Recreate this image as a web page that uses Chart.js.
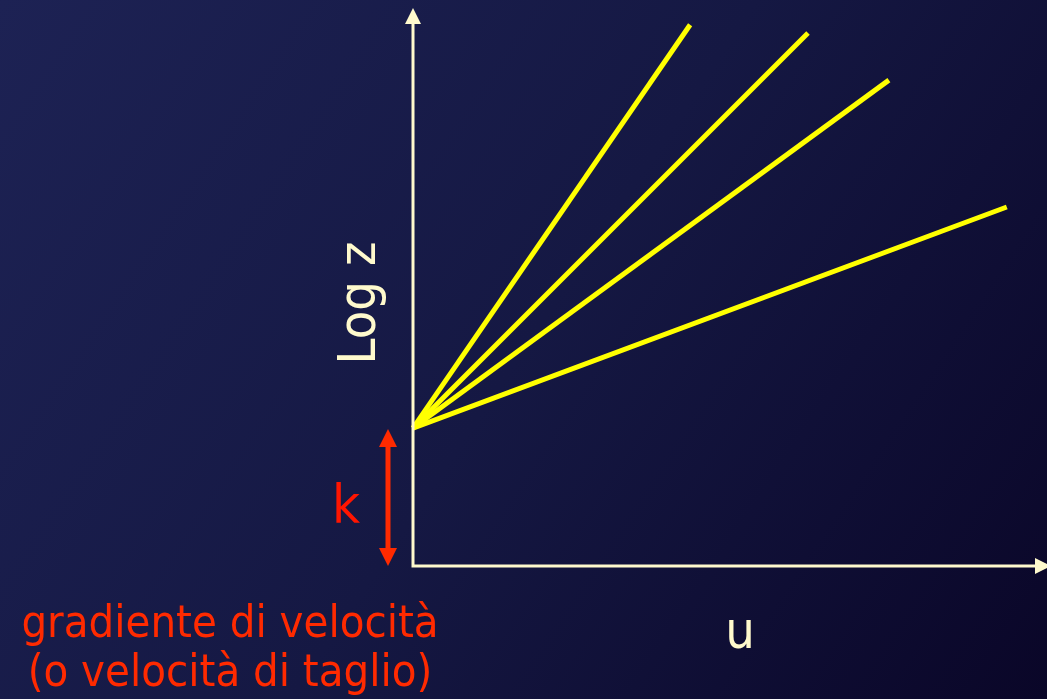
<!DOCTYPE html>
<html>
<head>
<meta charset="utf-8">
<script src="https://cdn.jsdelivr.net/npm/chart.js@4"></script>
<style>
	html, body { margin: 0; padding: 0; background: #12143c; }
	#wrap { width: 1047px; height: 699px; }
</style>
</head>
<body>
<div id="wrap"><canvas id="chart" width="1047" height="699"></canvas></div>
<script>
"use strict";

// values (axis units 0..100 on both axes)
const startU = 0;
const kValue = 24.9;
const endU = [44.2, 63.0, 75.9, 94.7];
const endLogZ = [97.7, 96.2, 87.7, 64.8];

const xLabel = "u";
const yLabel = "Log z";
const kLabel = "k";
const noteLines = ["gradiente di velocità", "(o velocità di taglio)"];

const axisColor = "#fffacd";
const lineColor = "#ffff00";
const redColor = "#ff2a00";
const kColor = "#ff1500";
const font = "\"DejaVu Sans Condensed\", \"DejaVu Sans\", sans-serif";

function arrowHead(ctx, x, y, dir, w, h) {
	// dir: "up", "down", "right"
	ctx.beginPath();
	if (dir === "up") {
		ctx.moveTo(x, y);
		ctx.lineTo(x - w / 2, y + h);
		ctx.lineTo(x + w / 2, y + h);
	} else if (dir === "down") {
		ctx.moveTo(x, y);
		ctx.lineTo(x - w / 2, y - h);
		ctx.lineTo(x + w / 2, y - h);
	} else {
		ctx.moveTo(x, y);
		ctx.lineTo(x - h, y - w / 2);
		ctx.lineTo(x - h, y + w / 2);
	}
	ctx.closePath();
	ctx.fill();
}

// pick a font size so that text is about the wanted width
function fitFont(ctx, text, width) {
	ctx.font = "100px " + font;
	const size = Math.round(100 * width / ctx.measureText(text).width);
	ctx.font = size + "px " + font;
	return size;
}

const slidePlugin = {
	id: "slide",
	beforeDraw(chart) {
		const ctx = chart.ctx;
		const g = ctx.createLinearGradient(0, 0, chart.width, chart.height);
		g.addColorStop(0, "#1d2254");
		g.addColorStop(0.5, "#151843");
		g.addColorStop(1, "#0a0628");
		ctx.save();
		ctx.fillStyle = g;
		ctx.fillRect(0, 0, chart.width, chart.height);
		ctx.restore();
	},
	afterDraw(chart) {
		const ctx = chart.ctx;
		const xs = chart.scales.x;
		const ys = chart.scales.y;
		const x0 = xs.getPixelForValue(0);
		const y0 = ys.getPixelForValue(0);

		ctx.save();
		// axes
		ctx.strokeStyle = axisColor;
		ctx.fillStyle = axisColor;
		ctx.lineWidth = 3;
		ctx.beginPath();
		ctx.moveTo(x0, y0);
		ctx.lineTo(x0, 22);
		ctx.moveTo(x0 - 1.5, y0);
		ctx.lineTo(chart.width - 10, y0);
		ctx.stroke();
		arrowHead(ctx, x0, 8, "up", 16, 16);
		arrowHead(ctx, chart.width + 4, y0, "right", 16, 16);

		// k double arrow
		const kx = x0 - 25;
		const kTop = ys.getPixelForValue(kValue) + 1;
		ctx.strokeStyle = redColor;
		ctx.fillStyle = redColor;
		ctx.lineWidth = 5;
		ctx.beginPath();
		ctx.moveTo(kx, kTop + 14);
		ctx.lineTo(kx, y0 - 14);
		ctx.stroke();
		arrowHead(ctx, kx, kTop, "up", 18, 18);
		arrowHead(ctx, kx, y0, "down", 18, 18);

		// texts
		ctx.textAlign = "center";
		ctx.textBaseline = "alphabetic";
		const noteSize = fitFont(ctx, noteLines[0], 420);
		ctx.fillStyle = redColor;
		ctx.fillText(noteLines[0], 230, 637);
		ctx.fillText(noteLines[1], 230, 686);

		ctx.fillStyle = kColor;
		ctx.font = Math.round(noteSize * 1.2) + "px " + font;
		ctx.fillText(kLabel, 346, 523);

		ctx.fillStyle = axisColor;
		fitFont(ctx, yLabel, 124);
		ctx.fillText(xLabel, 740, 648);

		ctx.translate(375, 303);
		ctx.rotate(-Math.PI / 2);
		ctx.fillText(yLabel, 0, 0);
		ctx.restore();
	},
};

const datasets = endU.map((u, i) => ({
	data: [{ x: startU, y: kValue }, { x: u, y: endLogZ[i] }],
	borderColor: lineColor,
	borderWidth: 5,
	pointRadius: 0,
	fill: false,
	clip: false,
}));

window.onload = () => {
	new Chart(document.getElementById("chart"), {
		type: "line",
		data: { datasets: datasets },
		options: {
			responsive: false,
			animation: false,
			layout: { padding: { left: 413, top: 12, right: 7, bottom: 133 } },
			plugins: { legend: { display: false }, tooltip: { enabled: false } },
			scales: {
				x: { type: "linear", min: 0, max: 100, display: false },
				y: { type: "linear", min: 0, max: 100, display: false },
			},
		},
		plugins: [slidePlugin],
	});
};
</script>
</body>
</html>
